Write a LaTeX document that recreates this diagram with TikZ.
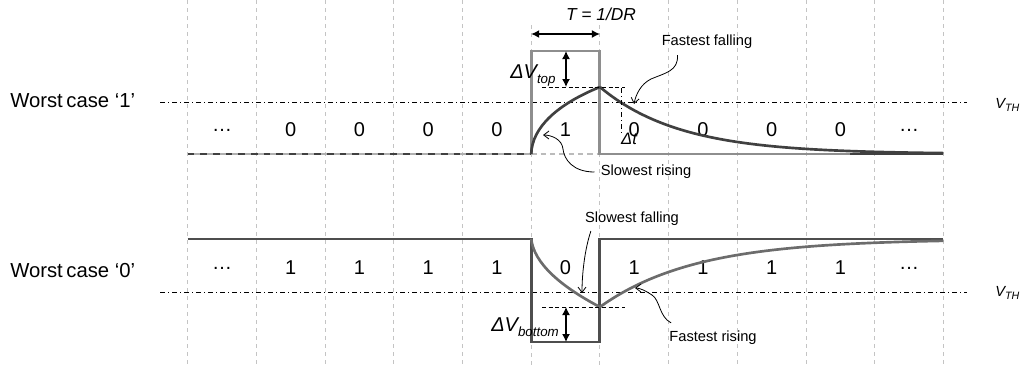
\documentclass[tikz,border=0pt]{standalone}
\usepackage{fontspec}
\setmainfont{Liberation Sans}
\usetikzlibrary{arrows.meta}
\definecolor{gridc}{HTML}{C4C4C4}
\definecolor{ideal}{HTML}{8E8E8E}
\definecolor{darkc}{HTML}{404040}
\definecolor{botpulse}{HTML}{4E4E4E}
\definecolor{botcurve}{HTML}{6C6C6C}
\newcommand\mysub[2]{\raisebox{-0.25em}{\fontsize{#1}{#1}\selectfont #2}}
\begin{document}
\begin{tikzpicture}[x=0.75pt,y=-0.75pt,
  gridline/.style={draw=gridc, line width=0.75pt, dash pattern=on 3pt off 3pt},
  vth/.style={draw=black, line width=0.6pt, dash pattern=on 4pt off 2pt on 1pt off 2pt},
  wave/.style={line width=2.2pt, line join=miter},
  helper/.style={draw=black, line width=0.7pt, dash pattern=on 3pt off 2pt},
  dbl/.style={draw=black, line width=1pt, {Latex[length=6pt,width=6pt]}-{Latex[length=6pt,width=6pt]}},
  annot/.style={draw=black, line width=0.6pt, -{Straight Barb[length=4pt,width=6pt]}},
  casetxt/.style={font=\fontsize{15.2}{18}\selectfont, inner sep=0pt, anchor=west},
  bit/.style={font=\fontsize{15}{17}\selectfont, inner sep=0pt},
  lbl/.style={font=\fontsize{11}{13}\selectfont, inner sep=0pt},
  vthtxt/.style={font=\itshape\fontsize{11}{13}\selectfont, inner sep=0pt, anchor=west}]
\useasboundingbox (0,0) rectangle (1022,365);

% grid
\foreach \i in {0,1,2,3,4,7,8,9,10,11}{
  \pgfmathsetmacro\xx{187.7+68.7*\i}
  \draw[gridline] (\xx,0) -- (\xx,365);
}
\foreach \i in {5,6}{
  \pgfmathsetmacro\xx{187.7+68.7*\i}
  \draw[gridline] (\xx,25) -- (\xx,365);
}

% threshold lines
\draw[vth] (160,102) -- (967,102);
\draw[vth] (160,292) -- (967,292);
\node[vthtxt] (vth1) at (995,105) {V\mysub{8}{TH}};
\node[vthtxt] (vth2) at (995,293) {V\mysub{8}{TH}};

% case labels
\node[casetxt] (case1) at (10,101) {Worst\hspace{-1.5pt} case ‘1’};
\node[casetxt] (case0) at (10,271) {Worst\hspace{-1.5pt} case ‘0’};

% bit values
\foreach \i/\t in {0/…,1/0,2/0,3/0,4/0,5/1,6/0,7/0,8/0,9/0,10/…}{
  \pgfmathsetmacro\xx{187.7+68.7*(\i+0.5)}
  \node[bit] (top\i) at (\xx,130) {\t};
}
\foreach \i/\t in {0/…,1/1,2/1,3/1,4/1,5/0,6/1,7/1,8/1,9/1,10/…}{
  \pgfmathsetmacro\xx{187.7+68.7*(\i+0.5)}
  \node[bit] (bot\i) at (\xx,268) {\t};
}

% ---- top waveform
\draw[wave, draw=ideal!70] (187.7,154) -- (531.2,154);
\draw[wave, draw=darkc, dash pattern=on 5pt off 4.5pt] (187.7,154) -- (531.2,154);
\draw[wave, draw=ideal!60, dash pattern=on 4pt off 3pt] (531.2,154) -- (599.9,154);
\draw[wave, draw=ideal] (531.2,154) -- (531.2,51) -- (599.9,51) -- (599.9,154) -- (943.4,154);
\draw[wave, draw=darkc, line width=2pt] (531.2,154) .. controls (532,127) and (558,104) .. (599.9,87);
\draw[wave, draw=darkc, line width=2pt] plot[domain=0:343.5, samples=80] ({599.9+\x},{154-67*exp(-\x/80)});
\draw[wave, draw=darkc] (850,154) -- (943.4,154);

% ---- bottom waveform
\draw[wave, draw=botpulse] (187.7,239) -- (531.2,239) -- (531.2,342) -- (599.9,342) -- (599.9,239) -- (943.4,239);
\draw[wave, draw=botcurve, line width=2pt] (531.2,239) .. controls (534,263) and (560,286) .. (599.9,307);
\draw[wave, draw=botcurve, line width=2pt] plot[domain=0:343.5, samples=80] ({599.9+\x},{239+68*exp(-\x/95)});

% helper dashed lines
\draw[helper] (542,87) -- (625,87);
\draw[helper] (542,307) -- (625,307);
\draw[vth] (621,88) -- (621,133);

% dimension arrows
\coordinate (tL) at (531.2,34);
\coordinate (tR) at (599.9,34);
\draw[dbl] (tL) -- (tR);
\node[font=\itshape\fontsize{13}{15}\selectfont, inner sep=0pt] (tlbl) at (601,14) {T = 1/DR};

\coordinate (vtA) at (566,51);
\coordinate (vtB) at (566,87);
\draw[dbl] (vtA) -- (vtB);
\node[font=\itshape\fontsize{15}{17}\selectfont, inner sep=0pt, anchor=west] (dvtop) at (510,75) {ΔV\mysub{10}{top}};

\coordinate (vbA) at (566,307);
\coordinate (vbB) at (566,342);
\draw[dbl] (vbA) -- (vbB);
\node[font=\itshape\fontsize{15}{17}\selectfont, inner sep=0pt, anchor=west] (dvbot) at (491,327) {ΔV\mysub{10}{bottom}};

\node[font=\itshape\fontsize{12.4}{14}\selectfont, inner sep=0pt] (dt) at (629,139) {Δt};

% annotations
\node[lbl] (ff) at (707,42) {Fastest falling};
\node[lbl] (sr) at (646,172) {Slowest rising};
\node[lbl] (sf) at (632,219) {Slowest falling};
\node[lbl] (fr) at (713,338) {Fastest rising};

\coordinate (ffTip) at (634,104);
\coordinate (srTip) at (543,135);
\coordinate (sfTip) at (582,293);
\coordinate (frTip) at (635,288);

\draw[annot] ([shift={(16,6)}]ff.south west) .. controls +(1,16) and +(14,-6) .. (651,79)
  .. controls +(-10,5) and +(2,-10) .. (ffTip);
\draw[annot] ([shift={(-6,0)}]sr.west) .. controls +(-22,0) and +(1,10) .. (563,149)
  .. controls +(-1,-10) and +(8,0) .. (srTip);
\draw[annot] ([shift={(6,5)}]sf.south west) .. controls +(-6,18) and +(0,-20) .. (sfTip);
\draw[annot] ([shift={(2,-8)}]fr.north west) .. controls +(-12,-6) and +(8,5) .. (652,295)
  .. controls +(-6,-4) and +(5,0) .. (frTip);
\end{tikzpicture}
\end{document}
